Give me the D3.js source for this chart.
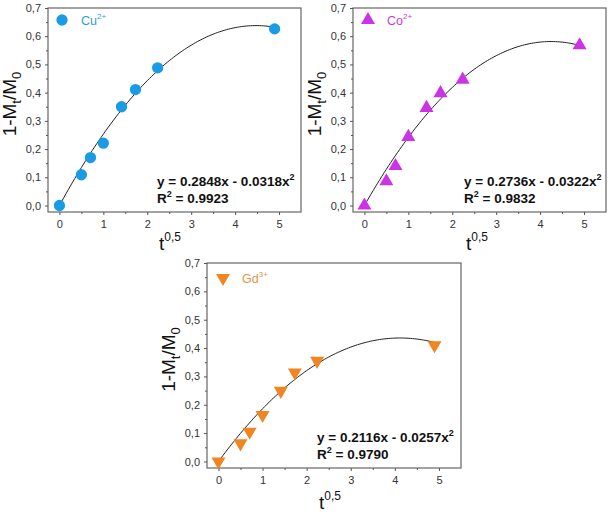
<!DOCTYPE html>
<html><head><meta charset="utf-8">
<script src="https://cdn.jsdelivr.net/npm/d3@7"></script>
<style>body{margin:0;background:#fff}svg{display:block}text{font-family:"Liberation Sans",Arial,sans-serif}</style>
</head><body>
<svg id="c" width="614" height="514"></svg>
<script>
// ---- data ----
const xVals = [0, 0.5, 0.707, 1, 1.414, 1.732, 2.236, 4.899];
const cuVals = [0, 0.109, 0.170, 0.221, 0.350, 0.411, 0.488, 0.626];
const coVals = [0, 0.086, 0.140, 0.243, 0.346, 0.398, 0.446, 0.568];
const gdVals = [0, 0.064, 0.105, 0.164, 0.249, 0.314, 0.355, 0.410];
const fitA = [0.2848, 0.2736, 0.2116];
const fitB = [0.0318, 0.0322, 0.0257];
const r2 = ["0.9923", "0.9832", "0.9790"];
const ions = [["Cu","2+"],["Co","2+"],["Gd","3+"]];
const xTicks = [0,1,2,3,4,5];
const yTicks = [0,0.1,0.2,0.3,0.4,0.5,0.6,0.7];
const yTickLabels = ["0,0","0,1","0,2","0,3","0,4","0,5","0,6","0,7"];

const colors = ["#1a9be6", "#cc33e6", "#f08522"];
const textColors = ["#2a9fe0", "#c040dc", "#e8924a"];
const markers = [d3.symbolCircle, d3.symbolTriangle, "down"];

const panels = [
  {x0:48, x1:301, y0:8, y1:212, ytx:16, xtx:170, xty:250, eqx:157, eqy:186, lx:62, ly:20},
  {x0:353, x1:606, y0:8, y1:212, ytx:321, xtx:477, xty:250, eqx:464, eqy:186, lx:368, ly:20},
  {x0:207, x1:461, y0:263, y1:468, ytx:175, xtx:330, xty:509, eqx:317, eqy:442, lx:223, ly:278}
];
const series = [cuVals, coVals, gdVals];

const svg = d3.select("#c");

function markerPath(i, size){
  if (markers[i] === "down") return d3.symbol(d3.symbolTriangle, size)();
  return d3.symbol(markers[i], size)();
}

panels.forEach((p, i) => {
  const x = d3.scaleLinear().domain([-0.26, 5.5]).range([p.x0, p.x1]);
  const y = d3.scaleLinear().domain([-0.023, 0.7]).range([p.y1, p.y0]);
  const g = svg.append("g");

  // frame
  g.append("rect").attr("x", p.x0).attr("y", p.y0).attr("width", p.x1 - p.x0).attr("height", p.y1 - p.y0)
    .attr("fill", "none").attr("stroke", "#666").attr("stroke-width", 1.2);

  // x axis
  const xa = g.append("g").attr("transform", `translate(0,${p.y1})`)
    .call(d3.axisBottom(x).tickValues(xTicks).tickFormat(d3.format("d")).tickSize(3).tickPadding(5));
  xa.select(".domain").remove();
  xa.selectAll("line").attr("stroke", "#555");
  xa.selectAll("text").attr("font-size", 11).attr("fill", "#333");
  const xm = g.append("g").attr("transform", `translate(0,${p.y1})`)
    .call(d3.axisBottom(x).tickValues([0.5,1.5,2.5,3.5,4.5]).tickFormat("").tickSize(2));
  xm.select(".domain").remove(); xm.selectAll("line").attr("stroke", "#555");

  // y axis
  const ya = g.append("g").attr("transform", `translate(${p.x0},0)`)
    .call(d3.axisLeft(y).tickValues(yTicks).tickFormat((d, k) => yTickLabels[k]).tickSize(3).tickPadding(4));
  ya.select(".domain").remove();
  ya.selectAll("line").attr("stroke", "#555");
  ya.selectAll("text").attr("font-size", 11).attr("fill", "#333");
  const ym = g.append("g").attr("transform", `translate(${p.x0},0)`)
    .call(d3.axisLeft(y).tickValues([0.05,0.15,0.25,0.35,0.45,0.55,0.65]).tickFormat("").tickSize(2));
  ym.select(".domain").remove(); ym.selectAll("line").attr("stroke", "#555");

  // fit curve
  const xs = d3.range(0, 4.9001, 0.05);
  const line = d3.line().x(d => x(d)).y(d => y(fitA[i]*d - fitB[i]*d*d)).curve(d3.curveBasis);
  g.append("path").datum(xs).attr("d", line).attr("fill", "none").attr("stroke", "#222").attr("stroke-width", 1);

  // points
  const size = i === 0 ? 100 : 85;
  g.selectAll(".pt").data(series[i]).enter().append("path")
    .attr("d", markerPath(i, size))
    .attr("transform", (d, k) => `translate(${x(xVals[k])},${y(d)})${markers[i]==="down" ? " rotate(180)" : ""}`)
    .attr("fill", colors[i]);

  // legend
  g.append("path").attr("d", markerPath(i, size))
    .attr("transform", `translate(${p.lx},${p.ly})${markers[i]==="down" ? " rotate(180)" : ""}`)
    .attr("fill", colors[i]);
  const lt = g.append("text").attr("x", p.lx + 19).attr("y", p.ly + 4.5).attr("font-size", 12.5).attr("fill", textColors[i]);
  lt.append("tspan").text(ions[i][0]);
  lt.append("tspan").attr("font-size", 8).attr("dy", -6).text(ions[i][1]);

  // equation
  const eq = g.append("text").attr("x", p.eqx).attr("y", p.eqy).attr("font-size", 13.5).attr("font-weight", "bold").attr("fill", "#111");
  eq.append("tspan").text(`y = ${fitA[i].toFixed(4)}x - ${fitB[i].toFixed(4)}x`);
  eq.append("tspan").attr("font-size", 9).attr("dy", -6).text("2");
  const r = g.append("text").attr("x", p.eqx).attr("y", p.eqy + 17).attr("font-size", 13.5).attr("font-weight", "bold").attr("fill", "#111");
  r.append("tspan").text("R");
  r.append("tspan").attr("font-size", 9).attr("dy", -6).text("2");
  r.append("tspan").attr("dy", 6).text(` = ${r2[i]}`);

  // x title
  const xt = g.append("text").attr("x", p.xtx).attr("y", p.xty).attr("text-anchor", "middle").attr("font-size", 19).attr("fill", "#111");
  xt.append("tspan").text("t");
  xt.append("tspan").attr("font-size", 12).attr("dy", -9).text("0,5");

  // y title
  const cy = (p.y0 + p.y1) / 2 - 6;
  const yt = g.append("text").attr("transform", `translate(${p.ytx},${cy}) rotate(-90)`).attr("text-anchor", "middle").attr("font-size", 19).attr("fill", "#111");
  yt.append("tspan").text("1-M");
  yt.append("tspan").attr("font-size", 13).attr("dy", 5).text("t");
  yt.append("tspan").attr("dy", -5).text("/M");
  yt.append("tspan").attr("font-size", 13).attr("dy", 5).text("0");
});
</script>
</body></html>
